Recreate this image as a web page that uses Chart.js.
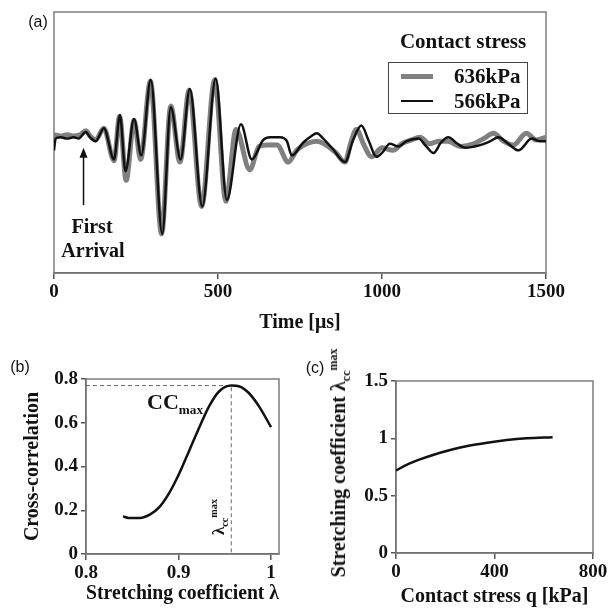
<!DOCTYPE html>
<html>
<head>
<meta charset="utf-8">
<script src="https://cdn.jsdelivr.net/npm/chart.js@4.4.0/dist/chart.umd.min.js"></script>
<style>
	body { margin: 0; background: #fff; }
	#figura { position: relative; width: 616px; height: 610px; overflow: hidden;
		font-family: "Liberation Serif", "Times New Roman", serif; font-weight: bold; color: #111; }
	#figura canvas { position: absolute; }
	.texto { position: absolute; white-space: nowrap; transform: translate(-50%, -50%); line-height: 1; }
	.rotulo { font-family: "Liberation Sans", Arial, sans-serif; font-weight: normal; font-size: 16px; }
	.girado { transform: translate(-50%, -50%) rotate(-90deg); }
	sub, sup { font-size: 60%; line-height: 0; }
	#legenda { position: absolute; left: 388px; top: 62px; width: 138px; height: 50px; border: 1.5px solid #444; }
	.item { position: absolute; left: 10px; height: 24px; width: 130px; }
	.amostra { position: absolute; left: 2px; width: 32px; top: 50%; }
	.nome { position: absolute; left: 55px; top: 50%; transform: translateY(-50%); font-size: 21px; line-height: 1; }
</style>
</head>
<body>
<div id="figura">
	<canvas id="graficoSinal" width="616" height="335" style="left:0;top:0"></canvas>
	<canvas id="graficoCorrelacao" width="300" height="280" style="left:0;top:330px"></canvas>
	<canvas id="graficoEstiramento" width="316" height="280" style="left:300px;top:330px"></canvas>

	<div class="texto rotulo" style="left:38px;top:22px">(a)</div>
	<div class="texto rotulo" style="left:20px;top:367px">(b)</div>
	<div class="texto rotulo" style="left:315px;top:368px">(c)</div>

	<div class="texto" style="left:463px;top:41px;font-size:21px">Contact stress</div>
	<div id="legenda"></div>

	<div class="texto" style="left:92px;top:226px;font-size:20px">First</div>
	<div class="texto" style="left:93px;top:250px;font-size:20px">Arrival</div>

	<div class="texto" style="left:175px;top:402px;font-size:22px">CC<sub>max</sub></div>
	<div class="texto girado" style="left:218px;top:517px;font-size:17px">λ<sub>cc</sub><sup>max</sup></div>

	<div class="texto girado" style="left:338px;top:463px;font-size:20px">Stretching coefficient λ<sub>cc</sub><sup>max</sup></div>
</div>

<script>
// Sinais recebidos (amplitude relativa) para as duas tensões de contato
var tempo636 = [0, 20, 40, 60, 80, 97, 110, 127, 152, 183, 200, 220, 244, 264, 294, 328, 356, 384, 412, 450,
	490, 524, 555, 597, 625, 650, 680, 714, 740, 770, 801, 830, 860, 887, 905, 922, 945, 968, 1000, 1034,
	1060, 1090, 1116, 1145, 1172, 1200, 1240, 1280, 1310, 1340, 1370, 1400, 1440, 1470, 1500];
var sinal636 = [6, 5, 6, 5, 6, 9, 5, 2, 11, -14, 20, -29, 17, -13, 47, -70, 28, -15, 40, -49,
	48, -45, 10, -21, -3, -2, -2, -15, -6, -1, 1, -2, -8, -15, 0, 10, -2, -11, -4, -6,
	-1, 2, 4, -1, 1, 1, -3, -1, 3, 7, 1, -2, 7, 2, 4];

var tempo566 = [0, 5, 20, 40, 60, 75, 97, 110, 127, 152, 183, 201, 218, 244, 266, 295, 330, 356, 386, 414,
	452, 493, 527, 570, 603, 638, 660, 689, 710, 725, 760, 785, 801, 821, 850, 887, 912, 937, 960, 983,
	1000, 1024, 1050, 1075, 1111, 1135, 1157, 1180, 1202, 1230, 1253, 1299, 1330, 1355, 1385, 1416, 1457, 1480, 1500];
var sinal566 = [-6, 3, 4, 3, 4, 3, 8, 4, 1, 11, -13, 21, -22, 18, -10, 48, -70, 27, -13, 41,
	-49, 49, -44, 14, -13, 2, 4, 4, 1, -10, 0, 5, 7, 3, -5, -15, 2, 13, 1, -11,
	-8, -1, -3, 1, 3, -3, -8, 0, 4, -1, -4, -2, 1, 4, -1, -6, 3, 1, 1];

var marcasTempo = [0, 500, 1000, 1500];
// seta da primeira chegada (tempo e amplitudes inicial/final)
var setaTempo = 90;
var setaDe = -48;
var setaAte = -4;

// Correlação cruzada x coeficiente de estiramento
var lambdas = [0.84, 0.846, 0.858, 0.869, 0.88, 0.89, 0.901, 0.912, 0.923, 0.933, 0.944, 0.957, 0.966, 0.976, 0.987, 1.0];
var correlacoes = [0.172, 0.165, 0.165, 0.18, 0.218, 0.279, 0.37, 0.477, 0.584, 0.675, 0.744, 0.77, 0.766, 0.736, 0.675, 0.58];
var ccMax = 0.77;
var lambdaMax = 0.957;
var marcasLambda = [0.8, 0.9, 1];
var marcasCorrelacao = [0, 0.2, 0.4, 0.6, 0.8];

// Coeficiente de estiramento x tensão de contato
var tensoes = [0, 45, 100, 150, 220, 290, 370, 450, 530, 636];
var estiramentos = [0.72, 0.77, 0.818, 0.855, 0.898, 0.933, 0.962, 0.985, 1.0, 1.01];
var marcasTensao = [0, 400, 800];
var marcasEstiramento = [0, 0.5, 1, 1.5];

var fonteMarca = { family: '"Liberation Serif", "Times New Roman", serif', size: 19, weight: 'bold' };
var fonteTitulo = { family: '"Liberation Serif", "Times New Roman", serif', size: 20, weight: 'bold' };

function pontos(xs, ys) {
	return xs.map(function(x, i) { return { x: x, y: ys[i] }; });
}

function fixarMarcas(valores) {
	return function(escala) {
		escala.ticks = valores.map(function(v) { return { value: v }; });
	};
}

function formatar(valor) {
	return String(Number(valor.toFixed(3)));
}

var moldura = {
	id: 'moldura',
	beforeDatasetsDraw: function(chart) {
		var a = chart.chartArea;
		var ctx = chart.ctx;
		ctx.save();
		ctx.strokeStyle = '#7d7d7d';
		ctx.lineWidth = 1.5;
		ctx.strokeRect(a.left, a.top, a.right - a.left, a.bottom - a.top);
		ctx.restore();
	}
};

function eixoX(min, max, marcas, titulo, altura, pad) {
	return {
		type: 'linear', min: min, max: max,
		afterBuildTicks: fixarMarcas(marcas),
		afterFit: function(s) { s.height = altura; },
		ticks: { font: fonteMarca, color: '#111', padding: 2, maxRotation: 0, callback: formatar },
		grid: { drawOnChartArea: false, tickLength: 6, color: '#555', lineWidth: 1.5 },
		border: { color: '#555', width: 1.5 },
		title: { display: true, text: titulo, font: fonteTitulo, color: '#111', padding: { top: 0, bottom: pad } }
	};
}

function eixoY(min, max, marcas, titulo, largura, pad) {
	return {
		min: min, max: max,
		afterBuildTicks: fixarMarcas(marcas),
		afterFit: function(s) { s.width = largura; },
		ticks: { font: fonteMarca, color: '#111', padding: 3, callback: formatar },
		grid: { drawOnChartArea: false, tickLength: 5, color: '#555', lineWidth: 1.5 },
		border: { color: '#555', width: 1.5 },
		title: { display: !!titulo, text: titulo, font: fonteTitulo, color: '#111', padding: { top: pad, bottom: 0 } }
	};
}

var semExtras = { legend: { display: false }, tooltip: { enabled: false } };

// (a) sinais no tempo
var seta = {
	id: 'seta',
	afterDatasetsDraw: function(chart) {
		var ctx = chart.ctx;
		var x = chart.scales.x.getPixelForValue(setaTempo);
		var y1 = chart.scales.y.getPixelForValue(setaDe);
		var y2 = chart.scales.y.getPixelForValue(setaAte);
		ctx.save();
		ctx.strokeStyle = '#111';
		ctx.fillStyle = '#111';
		ctx.lineWidth = 1.5;
		ctx.beginPath();
		ctx.moveTo(x, y1);
		ctx.lineTo(x, y2 + 8);
		ctx.stroke();
		ctx.beginPath();
		ctx.moveTo(x, y2);
		ctx.lineTo(x - 4, y2 + 10);
		ctx.lineTo(x + 4, y2 + 10);
		ctx.closePath();
		ctx.fill();
		ctx.restore();
	}
};

var graficoSinal = new Chart(document.getElementById('graficoSinal').getContext('2d'), {
	type: 'line',
	data: {
		datasets: [{
			label: '636kPa',
			data: pontos(tempo636, sinal636),
			borderColor: '#808080',
			borderWidth: 5,
			pointRadius: 0,
			order: 2,
			cubicInterpolationMode: 'monotone'
		}, {
			label: '566kPa',
			data: pontos(tempo566, sinal566),
			borderColor: '#111',
			borderWidth: 2.5,
			pointRadius: 0,
			order: 1,
			cubicInterpolationMode: 'monotone'
		}]
	},
	options: {
		responsive: false,
		animation: false,
		layout: { padding: { left: 54, top: 12, right: 70, bottom: 0 } },
		plugins: semExtras,
		scales: {
			x: eixoX(0, 1500, marcasTempo, 'Time [μs]', 62, 0),
			y: { display: false, min: -100, max: 100 }
		}
	},
	plugins: [moldura, seta]
});

// legenda montada a partir das séries
var legenda = document.getElementById('legenda');
graficoSinal.data.datasets.forEach(function(ds, i) {
	var item = document.createElement('div');
	item.className = 'item';
	item.style.top = (1 + i * 25) + 'px';
	var amostra = document.createElement('div');
	amostra.className = 'amostra';
	amostra.style.borderTop = ds.borderWidth + 'px solid ' + ds.borderColor;
	amostra.style.marginTop = (-ds.borderWidth / 2) + 'px';
	var nome = document.createElement('div');
	nome.className = 'nome';
	nome.textContent = ds.label;
	item.appendChild(amostra);
	item.appendChild(nome);
	legenda.appendChild(item);
});

// (b) correlação cruzada
new Chart(document.getElementById('graficoCorrelacao').getContext('2d'), {
	type: 'line',
	data: {
		datasets: [{
			label: 'Cross-correlation',
			data: pontos(lambdas, correlacoes),
			borderColor: '#111',
			borderWidth: 2.5,
			pointRadius: 0,
			cubicInterpolationMode: 'monotone'
		}, {
			label: 'CCmax',
			data: pontos([0.8, lambdaMax, lambdaMax], [ccMax, ccMax, 0]),
			borderColor: '#666',
			borderWidth: 1,
			borderDash: [4, 3],
			pointRadius: 0
		}]
	},
	options: {
		responsive: false,
		animation: false,
		layout: { padding: { left: 0, top: 49, right: 21, bottom: 0 } },
		plugins: semExtras,
		scales: {
			x: eixoX(0.8, 1.0086, marcasLambda, 'Stretching coefficient λ', 56, 4),
			y: eixoY(0, 0.8, marcasCorrelacao, 'Cross-correlation', 86, 21)
		}
	},
	plugins: [moldura]
});

// (c) coeficiente de estiramento
new Chart(document.getElementById('graficoEstiramento').getContext('2d'), {
	type: 'line',
	data: {
		datasets: [{
			label: 'Stretching coefficient',
			data: pontos(tensoes, estiramentos),
			borderColor: '#111',
			borderWidth: 2.5,
			pointRadius: 0,
			cubicInterpolationMode: 'monotone'
		}]
	},
	options: {
		responsive: false,
		animation: false,
		layout: { padding: { left: 0, top: 51, right: 23, bottom: 0 } },
		plugins: semExtras,
		scales: {
			x: eixoX(0, 800, marcasTensao, 'Contact stress q [kPa]', 57, 1),
			y: eixoY(0, 1.5, marcasEstiramento, '', 96, 0)
		}
	},
	plugins: [moldura]
});
</script>
</body>
</html>
